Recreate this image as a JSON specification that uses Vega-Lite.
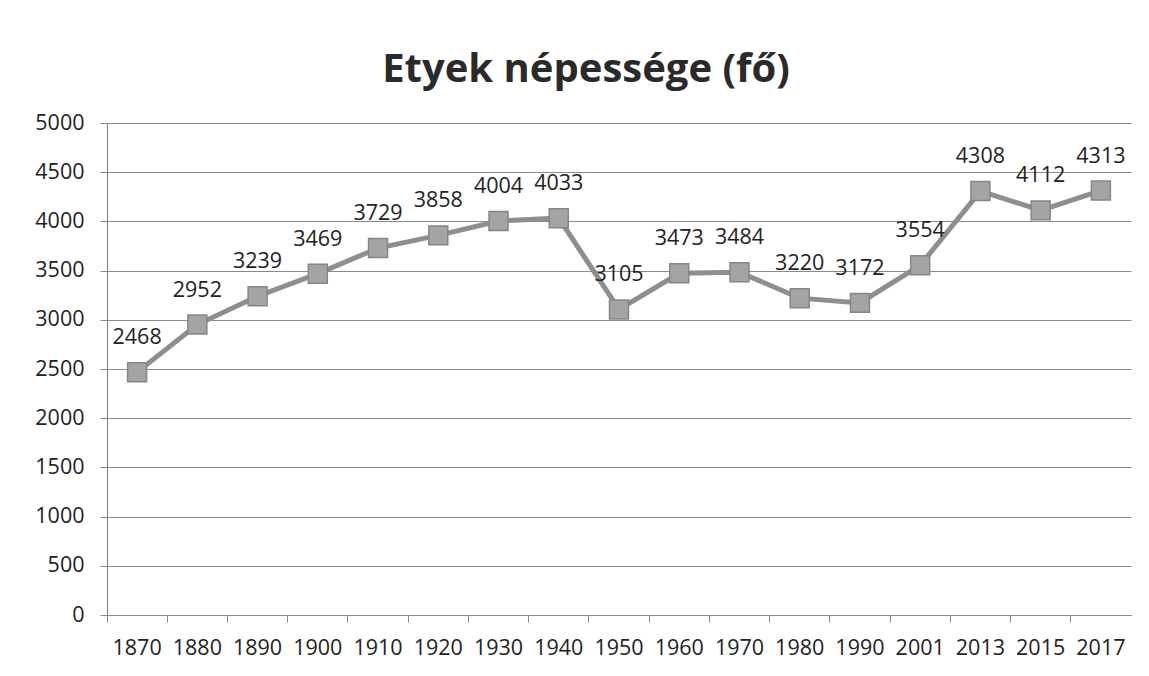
{
  "$schema": "https://vega.github.io/schema/vega-lite/v6.json",
  "autosize": "none",
  "width": 1024,
  "height": 492,
  "padding": {"left": 107, "top": 123, "right": 18, "bottom": 61},
  "background": "white",
  "config": {
    "view": {"stroke": null},
    "font": "Open Sans"
  },
  "title": {
    "text": "Etyek népessége (fő)",
    "font": "Open Sans",
    "fontSize": 40,
    "fontWeight": "bold",
    "color": "#2a2a2a",
    "anchor": "middle",
    "dx": -33,
    "offset": 22
  },
  "data": {
    "values": [
      {"year": "1870", "pop": 2468},
      {"year": "1880", "pop": 2952},
      {"year": "1890", "pop": 3239},
      {"year": "1900", "pop": 3469},
      {"year": "1910", "pop": 3729},
      {"year": "1920", "pop": 3858},
      {"year": "1930", "pop": 4004},
      {"year": "1940", "pop": 4033},
      {"year": "1950", "pop": 3105},
      {"year": "1960", "pop": 3473},
      {"year": "1970", "pop": 3484},
      {"year": "1980", "pop": 3220},
      {"year": "1990", "pop": 3172},
      {"year": "2001", "pop": 3554},
      {"year": "2013", "pop": 4308},
      {"year": "2015", "pop": 4112},
      {"year": "2017", "pop": 4313}
    ]
  },
  "layer": [
    {
      "mark": {
        "type": "line", "color": "#8e8e8e", "strokeWidth": 5,
        "point": {"shape": "square", "size": 360, "filled": true, "fill": "#a4a4a4", "stroke": "#868686", "strokeWidth": 1.5, "opacity": 1}
      },
      "encoding": {
        "x": {
          "field": "year", "type": "ordinal", "sort": null,
          "scale": {"type": "band", "paddingInner": 0, "paddingOuter": 0},
          "axis": {
            "title": null, "labelAngle": 0, "labelFontSize": 21.5, "labelColor": "#222222",
            "labelPadding": 22, "ticks": false, "domainColor": "#8a8a8a", "domainWidth": 1.2
          }
        },
        "y": {
          "field": "pop", "type": "quantitative",
          "scale": {"domain": [0, 5000], "nice": false},
          "axis": {
            "title": null, "values": [0, 500, 1000, 1500, 2000, 2500, 3000, 3500, 4000, 4500, 5000],
            "format": "d",
            "labelFontSize": 21.5, "labelColor": "#222222", "labelPadding": 16,
            "tickSize": 7, "tickColor": "#8a8a8a", "domainColor": "#8a8a8a", "domainWidth": 1.2,
            "grid": true, "gridColor": "#8a8a8a", "gridWidth": 1.2
          }
        }
      }
    },
    {
      "mark": {"type": "text", "fontSize": 21.5, "color": "#222222", "dy": -34, "font": "Open Sans"},
      "encoding": {
        "x": {
          "field": "year", "type": "ordinal", "sort": null,
          "scale": {"type": "band", "paddingInner": 0, "paddingOuter": 0},
          "axis": {
            "orient": "bottom", "title": null, "labels": false, "bandPosition": 0,
            "ticks": true, "tickSize": 7, "tickColor": "#8a8a8a", "domain": false, "grid": false
          }
        },
        "y": {"field": "pop", "type": "quantitative"},
        "text": {"field": "pop", "type": "quantitative", "format": "d"}
      }
    }
  ],
  "resolve": {"scale": {"x": "independent"}}
}
